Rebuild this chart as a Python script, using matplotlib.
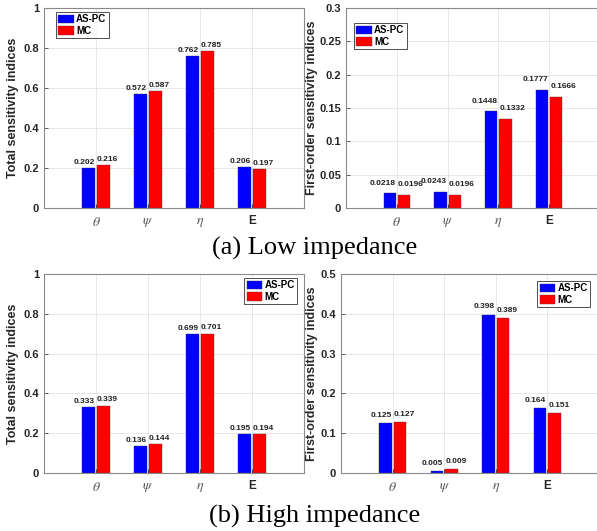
import matplotlib
matplotlib.use('Agg')
import matplotlib.pyplot as plt
from matplotlib import ticker
import numpy as np

plt.rcParams['font.family'] = 'Liberation Sans'
plt.rcParams['mathtext.fontset'] = 'stix'

# Data
params = ['$\\theta$', '$\\psi$', '$\\eta$', 'E']
methods = ['AS-PC', 'MC']

low_total_aspc = [0.202, 0.572, 0.762, 0.206]
low_total_mc = [0.216, 0.587, 0.785, 0.197]
low_first_aspc = [0.0218, 0.0243, 0.1448, 0.1777]
low_first_mc = [0.0196, 0.0196, 0.1332, 0.1666]
high_total_aspc = [0.333, 0.136, 0.699, 0.195]
high_total_mc = [0.339, 0.144, 0.701, 0.194]
high_first_aspc = [0.125, 0.005, 0.398, 0.164]
high_first_mc = [0.127, 0.009, 0.389, 0.151]

W, H = 597, 531
fig = plt.figure(figsize=(W / 100, H / 100), dpi=100)


def px_axes(x0, y0, x1, y1):
    # pixel box -> figure coords
    return fig.add_axes([x0 / W, 1 - y1 / H, (x1 - x0) / W, (y1 - y0) / H])


def draw_panel(ax, aspc, mc, ylim, step, ylabel, leg_xy, leg_loc, lab_off, lpad):
    x = np.arange(1, len(params) + 1)
    ax.set_axisbelow(True)
    ax.grid(True, color='#e3e3e3', lw=0.6)
    b1 = ax.bar(x - 0.14, aspc, 0.24, color='#0000ff', edgecolor='#303070', lw=0.3, label=methods[0])
    b2 = ax.bar(x + 0.14, mc, 0.24, color='#ff0000', edgecolor='#703030', lw=0.3, label=methods[1])
    for xi, v in zip(x, aspc):
        ax.annotate(str(v), (xi - 0.02, v), xytext=(0, lab_off), textcoords='offset points',
                    ha='right', va='bottom', fontsize=6, fontweight='bold', color='#222222')
    for xi, v in zip(x, mc):
        ax.annotate(str(v), (xi + 0.02, v), xytext=(0, lab_off), textcoords='offset points',
                    ha='left', va='bottom', fontsize=6, fontweight='bold', color='#222222')
    ax.set_xlim(0, 5)
    ax.set_ylim(*ylim)
    ax.set_xticks(x)
    ax.set_xticklabels(params)
    for t in ax.get_xticklabels():
        if t.get_text().startswith('$'):
            t.set_fontsize(10)
            t.set_color('#555555')
        else:
            t.set_fontsize(8.5)
            t.set_fontweight('bold')
            t.set_color('#262626')
    ax.yaxis.set_major_locator(ticker.MultipleLocator(step))
    ax.yaxis.set_major_formatter(ticker.FuncFormatter(lambda v, p: '%g' % round(v, 4)))
    for t in ax.get_yticklabels():
        t.set_fontweight('bold')
    ax.tick_params(axis='y', labelsize=8, colors='#262626', direction='in', length=3, width=0.5)
    ax.tick_params(axis='x', direction='in', length=3, width=0.5, pad=5)
    for s in ax.spines.values():
        s.set_color('#8a8a8a')
        s.set_linewidth(0.8)
    ax.set_ylabel(ylabel, fontsize=9, fontweight='bold', color='#262626', labelpad=lpad)
    leg = ax.legend(handles=[b1, b2], loc=leg_loc, bbox_to_anchor=leg_xy,
                    bbox_transform=fig.transFigure, prop={'weight': 'bold', 'size': 7},
                    frameon=True, fancybox=False, borderaxespad=0, borderpad=0.25,
                    handlelength=1.6, handleheight=1.0, handletextpad=0.2, labelspacing=0.15)
    leg.get_frame().set_edgecolor('#000000')
    leg.get_frame().set_linewidth(0.6)


ax1 = px_axes(44, 8, 304, 208)
draw_panel(ax1, low_total_aspc, low_total_mc, (0, 1), 0.2, 'Total sensitivity indices',
           (56 / W, 1 - 12 / H), 'upper left', 1.5, 3)
ax2 = px_axes(346, 8, 600, 208)
draw_panel(ax2, low_first_aspc, low_first_mc, (0, 0.3), 0.05, 'First-order sensitivity indices',
           (354 / W, 1 - 23 / H), 'upper left', 5, 1)
ax3 = px_axes(44, 274, 304, 473)
draw_panel(ax3, high_total_aspc, high_total_mc, (0, 1), 0.2, 'Total sensitivity indices',
           (297 / W, 1 - 278 / H), 'upper right', 1.5, 3)
ax4 = px_axes(341, 274, 599, 473)
draw_panel(ax4, high_first_aspc, high_first_mc, (0, 0.5), 0.1, 'First-order sensitivity indices',
           (590 / W, 1 - 281 / H), 'upper right', 3, 1.5)

fig.text(315 / W, 1 - 248 / H, '(a) Low impedance', ha='center', va='center',
         fontsize=19, family='Liberation Serif')
fig.text(315 / W, 1 - 516 / H, '(b) High impedance', ha='center', va='center',
         fontsize=19, family='Liberation Serif')

fig.savefig('out.png', dpi=100)
